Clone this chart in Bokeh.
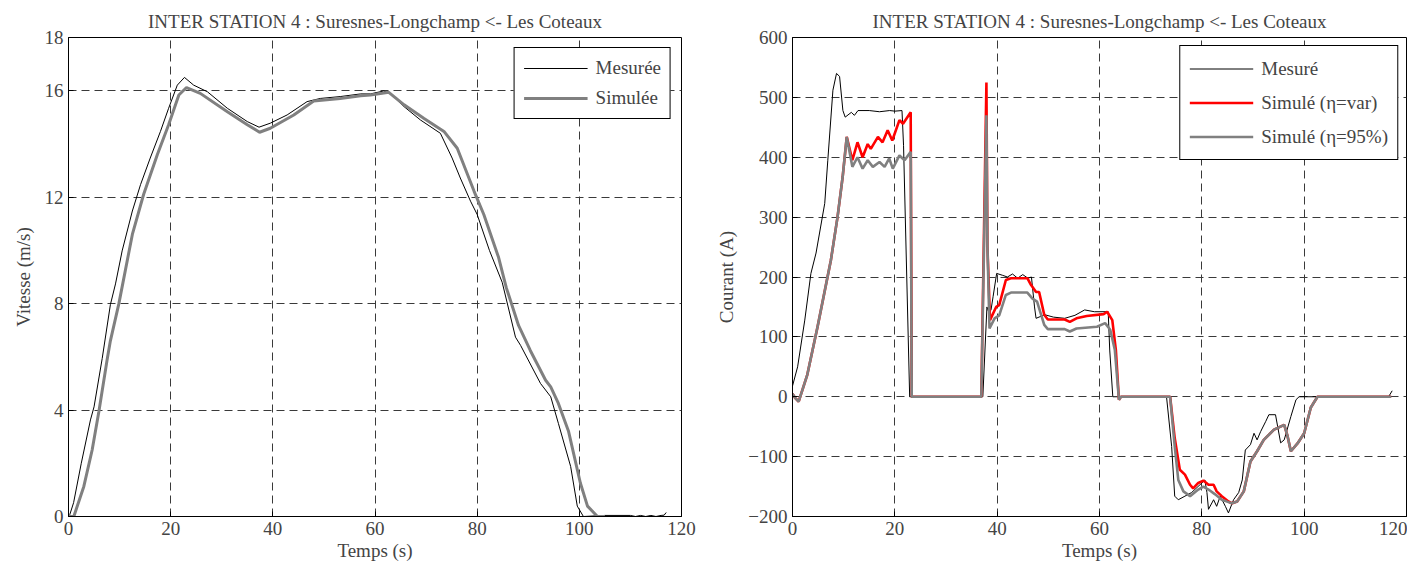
from bokeh.plotting import figure
from bokeh.models import FixedTicker, Legend, LegendItem, Range1d
from bokeh.layouts import row
from bokeh.embed import file_html
from bokeh.resources import INLINE

# ---------------- data ----------------
TITLE = "INTER STATION 4 : Suresnes-Longchamp <- Les Coteaux"

# Left: speed (m/s)
t_v_mes = [0, 0.25, 1.0, 2.5, 4.3, 5.0, 6.6, 8.2, 9.2, 10.5, 12.5, 14.1, 16.0, 18.0, 19.6, 21.3, 22.7,
           24.5, 27.2, 31.1, 35.0, 37.3, 39.5, 42.8, 46.7, 49.3, 53.2, 57.2, 59.1, 61.7, 63.0, 65.7,
           68.9, 72.8, 75.1, 76.7, 78.7, 80.0, 82.4, 84.9, 87.5, 88.5, 92.4, 94.4, 95.9, 98.3, 99.6,
           100.8, 105, 110, 111, 112, 113, 114, 115, 116, 116.6, 117]
v_mes = [0, 0.07, 0.52, 2.0, 3.63, 4.12, 5.94, 7.96, 8.74, 9.98, 11.48, 12.47, 13.47, 14.47, 15.34,
         16.21, 16.5, 16.21, 15.96, 15.34, 14.84, 14.63, 14.78, 15.09, 15.59, 15.71, 15.78, 15.88,
         15.88, 15.99, 15.9, 15.4, 14.9, 14.4, 13.47, 12.72, 11.85, 11.35, 10.0, 8.8, 6.74, 6.43, 5.0,
         4.5, 3.5, 1.88, 0.39, 0.0, 0.04, 0.04, 0.0, 0.04, 0.0, 0.04, 0.0, 0.04, 0.05, 0.15]

t_v_sim = [0, 1.04, 3.0, 4.63, 5.94, 7.6, 8.2, 9.85, 12.5, 14.7, 17.4, 19.6, 21.6, 23.1, 25.8, 31.1,
           35.0, 37.4, 39.5, 44.1, 48.0, 53.2, 57.2, 59.1, 62.7, 65.7, 69.6, 73.5, 76.1, 79.4, 81.3,
           84.2, 85.7, 88.1, 90.4, 93.4, 94.4, 95.9, 97.9, 100.2, 101.6, 103.5, 105.0]
v_sim = [0, 0, 1.13, 2.5, 3.94, 5.94, 6.6, 7.99, 10.6, 12.1, 13.6, 14.72, 15.84, 16.12, 15.9, 15.21,
         14.72, 14.44, 14.59, 15.09, 15.61, 15.71, 15.81, 15.84, 15.94, 15.47, 14.96, 14.47, 13.84,
         12.22, 11.35, 9.73, 8.6, 7.18, 6.24, 5.12, 4.87, 4.25, 3.19, 1.26, 0.39, 0.01, 0]

# Right: current (A)
t_i_mes = [0, 1.0, 2.4, 3.6, 4.6, 6.3, 6.9, 7.9, 8.6, 9.2, 9.85, 10.3, 11.5, 12.1, 12.8, 15.0, 17.0,
           19.0, 20.0, 21.4, 21.7, 22.9, 37.2, 38.0, 38.4, 38.8, 39.2, 39.9, 41.0, 42.0, 43.0, 44.0,
           45.0, 46.0, 46.7, 47.3, 47.6, 49.3, 51.0, 53.2, 55.2, 57.1, 59.0, 61.7, 62.0, 62.6, 73.1,
           74.1, 74.7, 75.4, 76.7, 78.0, 80.0, 80.6, 81.0, 81.3, 82.3, 82.9, 83.6, 84.6, 85.2, 86.2,
           87.2, 87.9, 88.5, 89.5, 90.2, 90.8, 91.5, 92.5, 93.1, 94.4, 95.4, 96.1, 97.4, 98.4, 99.0,
           116.5, 117.2]
i_mes = [18, 50, 128, 206, 240, 323, 395, 512, 540, 535, 478, 467, 475, 470, 478, 478, 476, 478, 477,
         478, 420, 0, 0, 150, 140, 145, 167, 206, 203, 200, 205, 198, 204, 198, 200, 150, 131, 137,
         133, 131, 136, 145, 142, 142, 78, 0, 0, -83, -166, -172, -166, -160, -144, -139, -160, -188,
         -172, -183, -166, -183, -194, -172, -160, -139, -89, -80, -61, -72, -58, -41, -30, -30, -77,
         -72, -33, -5, 0, 0, 10]

t_i_var = [0, 0.5, 1.2, 2.9, 4.9, 7.5, 8.8, 9.8, 10.6, 11.7, 12.7, 13.7, 14.7, 15.3, 16.7, 17.6, 18.6,
           19.5, 20.9, 21.6, 23.1, 23.3, 36.9, 37.9, 38.1, 38.6, 39.8, 40.4, 41.7, 42.7, 45.9, 46.6,
           47.6, 48.2, 49.2, 49.9, 53.2, 54.2, 55.5, 57.5, 60.8, 61.5, 62.5, 63.2, 63.8, 64.2, 73.8,
           74.7, 75.7, 76.7, 77.7, 78.3, 79.3, 80.3, 81.3, 82.3, 82.9, 83.9, 85.2, 85.9, 86.9, 88.2,
           89.5, 90.8, 92.1, 94.1, 96.1, 96.7, 97.4, 98.7, 100.0, 101.3, 102.6, 117.0]
i_var = [5, -2, -8, 37, 117, 228, 300, 367, 434, 395, 425, 400, 422, 414, 434, 425, 445, 428, 462,
         456, 475, 0, 0, 525, 250, 128, 150, 153, 195, 198, 198, 187, 175, 175, 137, 129, 129, 125,
         131, 135, 138, 142, 128, 78, -5, 0, 0, -69, -122, -130, -147, -153, -144, -140, -147, -147,
         -158, -166, -175, -178, -175, -158, -108, -91, -72, -55, -47, -64, -91, -78, -61, -18, 0, 0]

t_i_95 = [0, 0.5, 1.2, 2.9, 4.9, 7.5, 8.8, 9.8, 10.6, 11.7, 12.7, 13.7, 14.7, 15.7, 17.0, 18.0, 18.9,
          19.6, 20.9, 21.9, 23.1, 23.3, 36.9, 37.9, 38.1, 38.5, 39.5, 40.4, 41.7, 42.7, 45.9, 46.9,
          47.8, 49.2, 49.9, 53.2, 54.2, 55.5, 59.5, 61.1, 62.1, 63.0, 63.8, 64.2, 73.8, 74.7, 75.4,
          76.4, 77.7, 79.3, 80.3, 81.3, 82.6, 83.9, 85.2, 85.9, 86.9, 88.2, 89.5, 90.8, 92.1, 94.1,
          96.1, 96.7, 97.4, 98.7, 100.0, 101.3, 102.6, 117.0]
i_95 = [5, -2, -8, 37, 117, 228, 300, 367, 434, 384, 400, 381, 395, 384, 392, 384, 398, 381, 403, 395,
        409, 0, 0, 470, 250, 114, 131, 136, 170, 174, 174, 164, 159, 120, 113, 113, 109, 114, 117, 123,
        112, 78, -5, 0, 0, -83, -139, -158, -166, -155, -150, -155, -163, -172, -176, -178, -175,
        -158, -108, -91, -72, -55, -47, -64, -91, -78, -61, -18, 0, 0]

x_ticks = [0, 20, 40, 60, 80, 100, 120]
yv_ticks = [0, 4, 8, 12, 16, 18]
yi_ticks = [-200, -100, 0, 100, 200, 300, 400, 500, 600]

# ---------------- styling ----------------
SERIF = "Liberation Serif"
FS = "19px"
GRID_COL = "#3a3a3a"
GREY = "#808080"


def make_fig(width, border_left, border_right, yrange, yticks, ylabel):
    p = figure(width=width, height=563, output_backend="svg", toolbar_location=None,
               x_range=Range1d(0, 120), y_range=Range1d(*yrange),
               min_border_left=border_left, min_border_right=border_right,
               min_border_top=37, min_border_bottom=46)
    p.title.text = TITLE
    p.title.text_font = SERIF
    p.title.text_font_size = FS
    p.title.text_font_style = "normal"
    p.title.align = "center"
    p.title.standoff = 11
    p.outline_line_color = "black"
    p.outline_line_alpha = 1
    p.outline_line_width = 1
    for ax, ticks in ((p.xaxis[0], x_ticks), (p.yaxis[0], yticks)):
        ax.ticker = FixedTicker(ticks=ticks)
        ax.major_label_text_font = SERIF
        ax.major_label_text_font_size = FS
        ax.axis_label_text_font = SERIF
        ax.axis_label_text_font_size = FS
        ax.axis_label_text_font_style = "normal"
        ax.axis_line_color = "black"
        ax.major_tick_in = 5
        ax.major_tick_out = 0
        ax.minor_tick_line_color = None
        ax.major_label_standoff = 5
    p.xaxis.axis_label = "Temps (s)"
    p.xaxis.axis_label_standoff = 2
    p.yaxis.axis_label = ylabel
    p.yaxis.axis_label_standoff = 8
    p.xgrid.ticker = FixedTicker(ticks=x_ticks[1:-1])
    p.ygrid.ticker = FixedTicker(ticks=[t for t in yticks if t not in (yrange[0], yrange[1])])
    for g in (p.xgrid, p.ygrid):
        g.grid_line_color = GRID_COL
        g.grid_line_dash = "8 5"
        g.grid_line_width = 1
        g.grid_line_alpha = 1
    return p


# Left figure
p1 = make_fig(698, 68, 17, (0, 18), yv_ticks, "Vitesse (m/s)")
r1 = p1.line(t_v_mes, v_mes, line_color="black", line_width=1)
r2 = p1.line(t_v_sim, v_sim, line_color=GREY, line_width=3)
leg1 = Legend(items=[LegendItem(label="Mesurée", renderers=[r1]),
                     LegendItem(label="Simulée", renderers=[r2])],
              location="top_right", margin=10, padding=9, spacing=8,
              glyph_width=64, glyph_height=18, label_standoff=8,
              label_text_font=SERIF, label_text_font_size=FS,
              border_line_color="black", border_line_width=1, border_line_alpha=1,
              background_fill_color="white", background_fill_alpha=1)
p1.add_layout(leg1, "center")

# Right figure
p2 = make_fig(709, 94, 1, (-200, 600), yi_ticks, "Courant (A)")
q1 = p2.line(t_i_mes, i_mes, line_color="black", line_width=1)
q2 = p2.line(t_i_var, i_var, line_color="#ff0000", line_width=2.6)
q3 = p2.line(t_i_95, i_95, line_color=GREY, line_width=2.6)
leg2 = Legend(items=[LegendItem(label="Mesuré", renderers=[q1]),
                     LegendItem(label="Simulé (η=var)", renderers=[q2]),
                     LegendItem(label="Simulé (η=95%)", renderers=[q3])],
              location="top_right", margin=8, padding=9, spacing=7,
              glyph_width=64, glyph_height=27, label_standoff=8,
              label_text_font=SERIF, label_text_font_size=FS,
              border_line_color="black", border_line_width=1, border_line_alpha=1,
              background_fill_color="white", background_fill_alpha=1)
p2.add_layout(leg2, "center")

layout = row(p1, p2)
open("out.html", "w").write(file_html(layout, INLINE))
